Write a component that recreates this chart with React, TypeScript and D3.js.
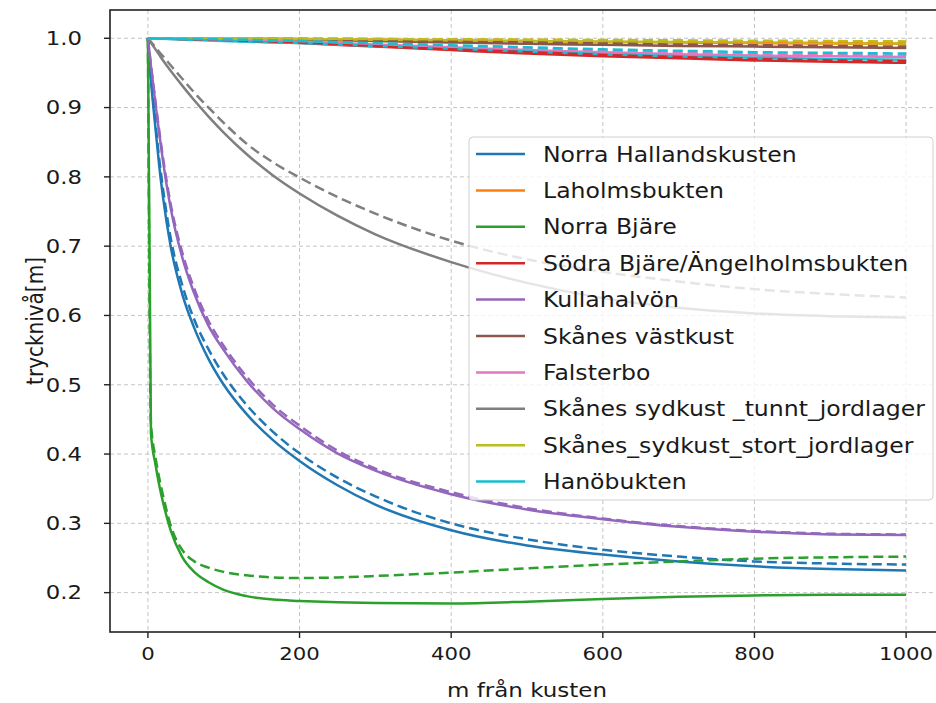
import React from "react";
import * as d3 from "d3";

// ---------- data ----------
const xGrid = [0, 4, 10, 15, 20, 30, 45, 60, 80, 100, 130, 165, 200, 250, 300, 400, 500, 600, 700, 800, 900, 1000];
const topGrid = [0, 100, 200, 300, 400, 500, 600, 700, 800, 900, 1000];

const seriesNames = [
  "Norra Hallandskusten",
  "Laholmsbukten",
  "Norra Bjäre",
  "Södra Bjäre/Ängelholmsbukten",
  "Kullahalvön",
  "Skånes västkust",
  "Falsterbo",
  "Skånes sydkust _tunnt_jordlager",
  "Skånes_sydkust_stort_jordlager",
  "Hanöbukten",
];
const seriesColors = ["#1f77b4", "#ff7f0e", "#2ca02c", "#d62728", "#9467bd", "#8c564b", "#e377c2", "#7f7f7f", "#bcbd22", "#17becf"];

// on xGrid
const hallandSolid = [1.0, 0.94, 0.87, 0.815, 0.77, 0.7, 0.632, 0.585, 0.537, 0.5, 0.458, 0.42, 0.39, 0.355, 0.327, 0.29, 0.268, 0.255, 0.245, 0.238, 0.234, 0.232];
const hallandDashed = [1.0, 0.945, 0.877, 0.825, 0.782, 0.712, 0.645, 0.597, 0.551, 0.514, 0.471, 0.432, 0.401, 0.366, 0.339, 0.3, 0.277, 0.262, 0.252, 0.245, 0.242, 0.2405];
const kullaSolid = [1.0, 0.96, 0.905, 0.862, 0.822, 0.755, 0.685, 0.635, 0.585, 0.55, 0.506, 0.466, 0.436, 0.401, 0.376, 0.342, 0.32, 0.306, 0.295, 0.288, 0.284, 0.283];
const kullaDashed = [1.0, 0.962, 0.908, 0.866, 0.827, 0.761, 0.692, 0.642, 0.592, 0.556, 0.512, 0.471, 0.441, 0.405, 0.379, 0.345, 0.322, 0.307, 0.296, 0.289, 0.285, 0.284];
const bjareSolid = [1.0, 0.43, 0.385, 0.355, 0.33, 0.29, 0.252, 0.231, 0.215, 0.204, 0.195, 0.19, 0.188, 0.186, 0.185, 0.1845, 0.187, 0.191, 0.194, 0.196, 0.197, 0.197];
const bjareDashed = [1.0, 0.445, 0.395, 0.365, 0.34, 0.297, 0.262, 0.246, 0.236, 0.23, 0.225, 0.222, 0.221, 0.222, 0.224, 0.229, 0.235, 0.2405, 0.245, 0.249, 0.251, 0.252];
const tunntSolid = [1.0, 0.9936, 0.984, 0.976, 0.968, 0.953, 0.932, 0.912, 0.887, 0.864, 0.833, 0.802, 0.776, 0.744, 0.717, 0.677, 0.647, 0.625, 0.611, 0.603, 0.599, 0.597];
const tunntDashed = [1.0, 0.995, 0.987, 0.98, 0.974, 0.961, 0.942, 0.923, 0.9, 0.878, 0.848, 0.821, 0.799, 0.771, 0.747, 0.708, 0.681, 0.663, 0.649, 0.638, 0.631, 0.626];

// on topGrid
const laholmSolid = [1.0, 0.9995, 0.999, 0.998, 0.997, 0.996, 0.995, 0.994, 0.993, 0.9925, 0.992];
const laholmDashed = [1.0, 1.0, 0.9995, 0.999, 0.998, 0.9975, 0.997, 0.996, 0.9955, 0.995, 0.9945];
const sodraSolid = [1.0, 0.997, 0.993, 0.988, 0.983, 0.978, 0.974, 0.971, 0.968, 0.966, 0.9645];
const sodraDashed = [1.0, 0.9975, 0.994, 0.989, 0.984, 0.98, 0.976, 0.973, 0.97, 0.968, 0.967];
const vastSolid = [1.0, 0.999, 0.998, 0.996, 0.994, 0.992, 0.9905, 0.989, 0.988, 0.987, 0.986];
const vastDashed = [1.0, 0.9993, 0.9985, 0.997, 0.9955, 0.994, 0.9925, 0.991, 0.99, 0.989, 0.988];
const falsterboSolid = [1.0, 0.998, 0.995, 0.991, 0.987, 0.983, 0.98, 0.977, 0.975, 0.974, 0.973];
const falsterboDashed = [1.0, 0.9985, 0.996, 0.992, 0.988, 0.985, 0.982, 0.979, 0.977, 0.976, 0.975];
const stortSolid = [1.0, 0.9995, 0.999, 0.998, 0.997, 0.996, 0.995, 0.9945, 0.994, 0.993, 0.9925];
const stortDashed = [1.0, 1.0, 0.9995, 0.999, 0.9985, 0.998, 0.9975, 0.997, 0.9965, 0.996, 0.9955];
const hanoSolid = [1.0, 0.996, 0.993, 0.989, 0.985, 0.981, 0.977, 0.974, 0.972, 0.97, 0.969];
const hanoDashed = [1.0, 0.9985, 0.996, 0.993, 0.99, 0.987, 0.984, 0.982, 0.98, 0.979, 0.978];

const xTicks = [0, 200, 400, 600, 800, 1000];
const yTicks = [0.2, 0.3, 0.4, 0.5, 0.6, 0.7, 0.8, 0.9, 1.0];

const solidSets = [
  [xGrid, hallandSolid], [topGrid, laholmSolid], [xGrid, bjareSolid], [topGrid, sodraSolid], [xGrid, kullaSolid],
  [topGrid, vastSolid], [topGrid, falsterboSolid], [xGrid, tunntSolid], [topGrid, stortSolid], [topGrid, hanoSolid],
];
const dashedSets = [
  [xGrid, hallandDashed], [topGrid, laholmDashed], [xGrid, bjareDashed], [topGrid, sodraDashed], [xGrid, kullaDashed],
  [topGrid, vastDashed], [topGrid, falsterboDashed], [xGrid, tunntDashed], [topGrid, stortDashed], [topGrid, hanoDashed],
];

// ---------- layout ----------
const W = 936, H = 703;
const L = 110, R = 944, T = 10, B = 632;
const SX = 1.15;
const FONT = "DejaVu Sans, sans-serif";

function SText({ x, y, anchor = "start", size, children, rotate = 0, sx = SX }: any) {
  return (
    <text
      transform={`translate(${x},${y}) scale(${sx},1)${rotate ? ` rotate(${rotate})` : ""}`}
      textAnchor={anchor}
      fontSize={size}
      fontFamily={FONT}
      fill="#1a1a1a"
    >
      {children}
    </text>
  );
}

export default function App() {
  const x = d3.scaleLinear().domain([-50, 1050]).range([L, R]);
  const y = d3.scaleLinear().domain([0.1432, 1.0408]).range([B, T]);
  const mk = (xs: number[], ys: number[]) =>
    d3.line<number>().x((_, i) => x(xs[i])).y((d) => y(d)).curve(d3.curveMonotoneX)(ys) || "";

  const legendX = 469, legendY = 137, legendW = 464, legendH = 363;
  const rowH = 36.4;

  return (
    <svg width={W} height={H} style={{ position: "absolute", left: 0, top: 0, background: "#fff" }}>
      <defs>
        <clipPath id="plot">
          <rect x={L} y={T} width={R - L} height={B - T} />
        </clipPath>
      </defs>
      <rect x={0} y={0} width={W} height={H} fill="#fff" />
      {/* grid */}
      <g stroke="#c4c4c4" strokeWidth={1} strokeDasharray="4,3">
        {xTicks.map((t) => (
          <line key={"gx" + t} x1={x(t)} x2={x(t)} y1={T} y2={B} />
        ))}
        {yTicks.map((t) => (
          <line key={"gy" + t} x1={L} x2={R} y1={y(t)} y2={y(t)} />
        ))}
      </g>
      {/* lines */}
      <g clipPath="url(#plot)" fill="none" strokeWidth={2.5} strokeLinejoin="round">
        {solidSets.map(([xs, ys], i) => (
          <path key={"s" + i} d={mk(xs as number[], ys as number[])} stroke={seriesColors[i]} />
        ))}
        {dashedSets.map(([xs, ys], i) => (
          <path key={"d" + i} d={mk(xs as number[], ys as number[])} stroke={seriesColors[i]} strokeDasharray="10,5" />
        ))}
      </g>
      {/* spines */}
      <rect x={L} y={T} width={R - L} height={B - T} fill="none" stroke="#222" strokeWidth={1.6} />
      {/* ticks */}
      <g stroke="#222" strokeWidth={1.4}>
        {xTicks.map((t) => (
          <line key={"tx" + t} x1={x(t)} x2={x(t)} y1={B} y2={B + 6} />
        ))}
        {yTicks.map((t) => (
          <line key={"ty" + t} x1={L - 6} x2={L} y1={y(t)} y2={y(t)} />
        ))}
      </g>
      {xTicks.map((t) => (
        <SText key={"lx" + t} x={x(t)} y={B + 28} anchor="middle" size={18.5}>
          {d3.format("d")(t)}
        </SText>
      ))}
      {yTicks.map((t) => (
        <SText key={"ly" + t} x={L - 28} y={y(t) + 6.8} anchor="end" size={19} sx={1.2}>
          {d3.format(".1f")(t)}
        </SText>
      ))}
      <SText x={(L + R) / 2} y={697} anchor="middle" size={20}>
        m från kusten
      </SText>
      <SText x={43} y={(T + B) / 2} anchor="middle" size={20} rotate={-90}>
        trycknivå[m]
      </SText>
      {/* legend */}
      <rect x={legendX} y={legendY} width={legendW} height={legendH} rx={4} fill="#fff" fillOpacity={0.8} stroke="#d0d0d0" strokeWidth={1} />
      {seriesNames.map((n, i) => {
        const cy = legendY + 17 + i * rowH;
        return (
          <g key={"lg" + i}>
            <line x1={476} x2={525} y1={cy} y2={cy} stroke={seriesColors[i]} strokeWidth={2.5} />
            <SText x={543} y={cy + 7.5} size={20.5}>
              {n}
            </SText>
          </g>
        );
      })}
    </svg>
  );
}
